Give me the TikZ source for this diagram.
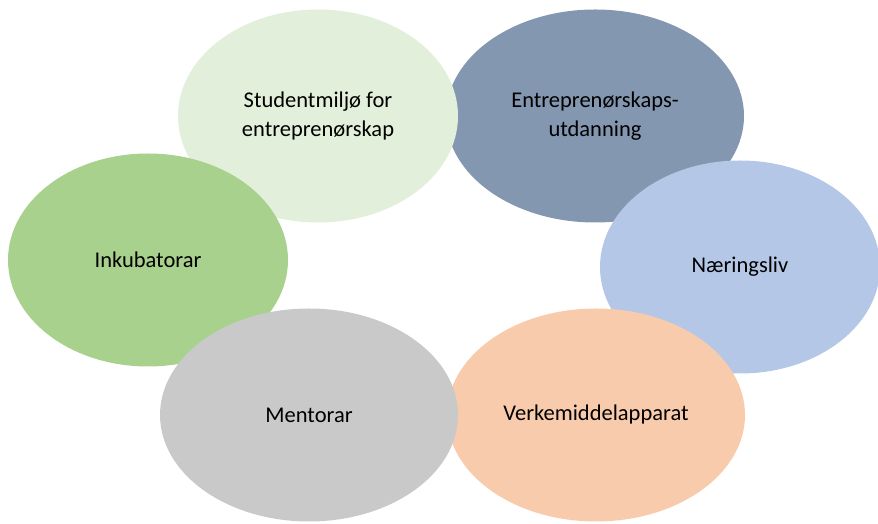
\documentclass[tikz,border=0pt]{standalone}
\usepackage{fontspec}
\setmainfont{Carlito}
\usetikzlibrary{shapes.geometric}

\definecolor{paleGreen}{HTML}{E2EFDA}
\definecolor{slateBlue}{HTML}{8497B0}
\definecolor{lightBlue}{HTML}{B4C7E7}
\definecolor{peach}{HTML}{F8CBAD}
\definecolor{midGrey}{HTML}{C9C9C9}
\definecolor{leafGreen}{HTML}{A9D18E}

\begin{document}
\begin{tikzpicture}[x=1pt, y=1pt,
  main/.style = {ellipse, inner sep=0pt, align=center,
    font=\fontsize{22.5}{29}\selectfont},
  wide/.style = {main, minimum width=298pt, minimum height=213pt},
  narrow/.style = {main, minimum width=280pt, minimum height=213pt}]
		\useasboundingbox (0,0) rectangle (878,524);
		\node[wide, fill=slateBlue] (utd) at (595,408) {Entreprenørskaps-\\utdanning};
		\node[narrow, fill=lightBlue] (naer) at (740,257) {Næringsliv};
		\node[wide, fill=peach] (verk) at (596,109) {Verkemiddelapparat};
		\node[narrow, fill=paleGreen] (stud) at (318,408) {Studentmiljø for\\entreprenørskap};
		\node[narrow, fill=leafGreen] (inkub) at (148,264) {Inkubatorar};
		\node[wide, fill=midGrey] (ment) at (309,109) {Mentorar};
	\end{tikzpicture}
\end{document}
